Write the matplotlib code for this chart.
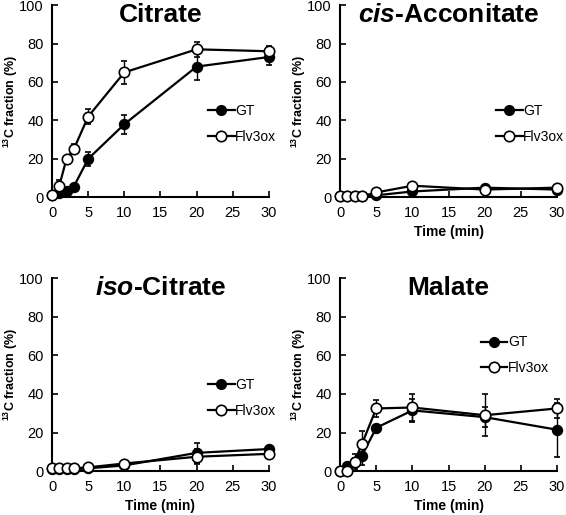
import numpy as np
import matplotlib.pyplot as plt
from matplotlib.lines import Line2D

plt.rcParams['font.family'] = ['Liberation Sans', 'DejaVu Sans']
plt.rcParams['mathtext.fontset'] = 'custom'
plt.rcParams['mathtext.bf'] = 'Liberation Sans:bold'
plt.rcParams['mathtext.rm'] = 'Liberation Sans:bold'
plt.rcParams['mathtext.it'] = 'Liberation Sans:bold:italic'

# time points (min)
time = [0, 1, 2, 3, 5, 10, 20, 30]

# Citrate
citrate_gt = [1, 2, 3.5, 5.5, 20, 38, 68, 73]
citrate_gt_err = [0, 0, 1, 1, 3.5, 5, 7, 4]
citrate_ox = [1, 6, 20, 25, 42, 65, 77, 76]
citrate_ox_err = [0, 3, 1, 2.5, 4, 6, 4, 2.5]

# cis-Acconitate
cis_gt = [0.5, 0.5, 0.5, 0.5, 1, 3, 5, 4]
cis_gt_err = [0, 0, 0, 0, 0, 0.5, 0.5, 0.5]
cis_ox = [0.5, 0.5, 0.5, 0.5, 2.5, 6, 4, 5]
cis_ox_err = [0, 0, 0, 0, 0.5, 0.5, 0.5, 0.5]

# iso-Citrate
iso_gt = [1, 1, 1, 1, 1.5, 3, 9.5, 11.5]
iso_gt_err = [0, 0, 0, 0, 0, 0.5, 5, 1]
iso_ox = [1.5, 1.5, 1.5, 1.5, 2, 4, 7.5, 9]
iso_ox_err = [0, 0, 0, 0, 0, 0.5, 4, 1]

# Malate
malate_gt = [0, 2.5, 5, 8, 22.5, 31.5, 28, 21.5]
malate_gt_err = [0, 1.5, 4, 5, 1.5, 6, 5, 14]
malate_ox = [0, 0, 5, 14, 32.5, 33, 29, 32.5]
malate_ox_err = [0, 0, 2, 7, 4.5, 7, 11, 5]

panels = [
    ('Citrate', citrate_gt, citrate_gt_err, citrate_ox, citrate_ox_err),
    (r'$\it{cis}$-Acconitate', cis_gt, cis_gt_err, cis_ox, cis_ox_err),
    (r'$\it{iso}$-Citrate', iso_gt, iso_gt_err, iso_ox, iso_ox_err),
    ('Malate', malate_gt, malate_gt_err, malate_ox, malate_ox_err),
]

# axes boxes [left, bottom, width, height]
boxes = [
    [0.092, 0.617, 0.383, 0.373],
    [0.601, 0.617, 0.383, 0.373],
    [0.092, 0.085, 0.383, 0.375],
    [0.601, 0.085, 0.383, 0.375],
]
legend_pos = [(0.72, 0.38), (0.72, 0.38), (0.72, 0.38), (0.65, 0.60)]
show_xlabel = [False, True, True, True]

fig = plt.figure(figsize=(5.66, 5.15), dpi=100)

for i, (title, gt, gt_err, ox, ox_err) in enumerate(panels):
    ax = fig.add_axes(boxes[i])
    ax.errorbar(time, gt, yerr=gt_err, color='black', lw=1.6, marker='o',
                ms=7, mfc='black', mec='black', mew=1.2, capsize=2.5,
                elinewidth=1, capthick=1, clip_on=False, zorder=3)
    ax.errorbar(time, ox, yerr=ox_err, color='black', lw=1.6, marker='o',
                ms=7.5, mfc='white', mec='black', mew=1.2, capsize=2.5,
                elinewidth=1, capthick=1, clip_on=False, zorder=4)
    ax.set_xlim(0, 30)
    ax.set_ylim(0, 100)
    ax.set_xticks(np.arange(0, 31, 5))
    ax.set_yticks(np.arange(0, 101, 20))
    ax.spines['top'].set_visible(False)
    ax.spines['right'].set_visible(False)
    ax.spines['left'].set_linewidth(1.5)
    ax.spines['bottom'].set_linewidth(1.5)
    ax.tick_params(direction='in', length=4, width=1.2, labelsize=10.5, pad=6)
    ax.set_ylabel(r'$^{13}$C fraction (%)', fontsize=9, fontweight='bold')
    ax.yaxis.set_label_coords(-0.15, 0.5)
    if show_xlabel[i]:
        ax.set_xlabel('Time (min)', fontsize=10, fontweight='bold', labelpad=4)
    ax.text(0.5, 0.95, title, transform=ax.transAxes, ha='center', va='center',
            fontsize=19, fontweight='bold')
    handles = [
        Line2D([], [], color='black', lw=1.6, marker='o', ms=7, mfc='black', mec='black'),
        Line2D([], [], color='black', lw=1.6, marker='o', ms=7.5, mfc='white', mec='black', mew=1.2),
    ]
    ax.legend(handles, ['GT', 'Flv3ox'], loc='center left', bbox_to_anchor=legend_pos[i],
              frameon=False, fontsize=10, handlelength=1.9, handletextpad=0.05,
              borderpad=0, borderaxespad=0, labelspacing=0.85)

plt.savefig('out.png', dpi=100)
